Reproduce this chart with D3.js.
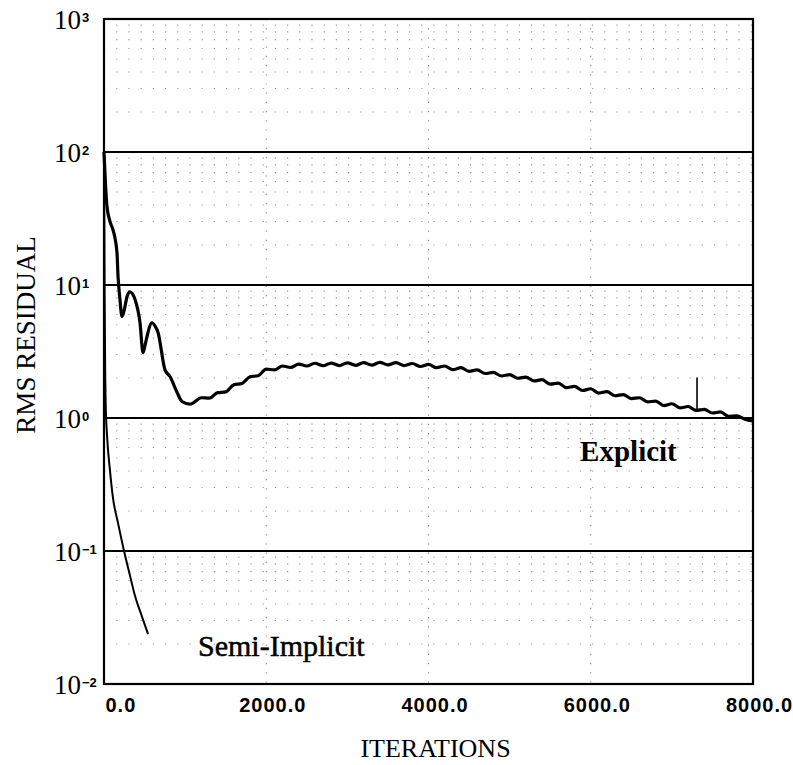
<!DOCTYPE html>
<html>
<head>
<meta charset="utf-8">
<script src="https://cdn.jsdelivr.net/npm/d3@7"></script>
<style>
  body { margin: 0; background: #fff; }
  svg { display: block; }
</style>
</head>
<body>
<div id="chart"></div>
<script>
// values
var xTicks = [0, 2000, 4000, 6000, 8000]
var yTicks = [1e3, 1e2, 1e1, 1e0, 1e-1, 1e-2]
var yExps = ["3", "2", "1", "0", "\u22121", "\u22122"]

var explicitIter = [0, 20, 37, 74, 111, 160, 173, 195, 222, 250, 284, 321, 350, 382, 444, 481, 505, 530, 592, 630, 666, 752, 814, 900, 962, 1060,
  1100, 1200, 1300, 1400, 1500, 1600, 1700, 1800, 1900, 2000,
  2100, 2200, 2300, 2400, 2500, 2600, 2700, 2800, 2900, 3000,
  3100, 3200, 3300, 3400, 3500, 3600, 3700, 3800, 3900, 4000,
  4100, 4200, 4300, 4400, 4500, 4600, 4700, 4800, 4900, 5000,
  5100, 5200, 5300, 5400, 5500, 5600, 5700, 5800, 5900, 6000,
  6100, 6200, 6300, 6400, 6500, 6600, 6700, 6800, 6900, 7000,
  7100, 7200, 7300, 7400, 7500, 7600, 7700, 7800, 7900, 8000]
var explicitRes = [100, 55, 39, 30, 26, 17.5, 11.6, 8, 5.8, 6.5, 8.2, 8.9, 8.6, 7.8, 5.2, 3.1, 3.5, 4.1, 5.2, 4.9, 4.4, 2.3, 2.05, 1.56, 1.33, 1.27,
  1.30, 1.42, 1.41, 1.55, 1.57, 1.78, 1.82, 2.04, 2.08, 2.33,
  2.30, 2.46, 2.40, 2.54, 2.46, 2.58, 2.47, 2.59, 2.48, 2.60,
  2.49, 2.61, 2.50, 2.62, 2.51, 2.61, 2.48, 2.57, 2.44, 2.53,
  2.39, 2.46, 2.31, 2.39, 2.24, 2.30, 2.16, 2.20, 2.07, 2.12,
  1.99, 2.03, 1.90, 1.94, 1.80, 1.83, 1.69, 1.73, 1.61, 1.66,
  1.54, 1.58, 1.47, 1.50, 1.40, 1.42, 1.32, 1.34, 1.24, 1.28,
  1.19, 1.22, 1.14, 1.16, 1.09, 1.11, 1.03, 1.04, 0.98, 0.95]

// the thin glitch near 7300 iterations
var spikeIter = [7310]
var spikeLow = [1.14]
var spikeHigh = [2.02]

var semiIter = [0, 4, 8, 14, 22, 37, 74, 111, 173, 247, 321, 382, 469, 543]
var semiRes = [100, 30, 8, 2.5, 1.2, 0.75, 0.40, 0.25, 0.162, 0.1, 0.065, 0.046, 0.032, 0.0237]

var labels = [
  {text: "Explicit", x: 5869, y: 0.472, weight: "bold", size: 29},
  {text: "Semi-Implicit", x: 1159, y: 0.0162, weight: "normal", size: 30}
]

var width = 793, height = 765
var margins = {top: 19, left: 104, right: 40, bottom: 81}
var inner_width = width - margins.left - margins.right
var inner_height = height - margins.top - margins.bottom

var svg = d3.select("#chart").append("svg")
            .attr("width", width)
            .attr("height", height)

var g = svg.append("g")
           .attr("transform", "translate(" + margins.left + "," + margins.top + ")")

var scalex = d3.scaleLinear()
               .domain([0, 8000])
               .range([0, inner_width])

var scaley = d3.scaleLog()
               .domain([1e-2, 1e3])
               .range([inner_height, 0])

// faint dotted minor grid (log 2..9 in each decade), scan leaves it patchy
var minors = []
for (var e = -2; e < 3; e++) {
  for (var m = 2; m < 10; m++) minors.push(m * Math.pow(10, e))
}
g.selectAll(".minor").data(minors)
  .enter().append("line")
  .attr("class", "minor")
  .attr("x1", 0).attr("x2", inner_width)
  .attr("y1", function (d) { return scaley(d) })
  .attr("y2", function (d) { return scaley(d) })
  .attr("stroke", "#999")
  .attr("stroke-width", 1.1)
  .attr("stroke-dasharray", "1.2,11")

g.selectAll(".vgrid").data(xTicks.slice(1, -1))
  .enter().append("line")
  .attr("class", "vgrid")
  .attr("x1", function (d) { return scalex(d) })
  .attr("x2", function (d) { return scalex(d) })
  .attr("y1", 0).attr("y2", inner_height)
  .attr("stroke", "#888")
  .attr("stroke-width", 1.1)
  .attr("stroke-dasharray", "1.2,8")

// solid decade lines
g.selectAll(".major").data(yTicks.slice(1, -1))
  .enter().append("line")
  .attr("class", "major")
  .attr("x1", 0).attr("x2", inner_width)
  .attr("y1", function (d) { return scaley(d) })
  .attr("y2", function (d) { return scaley(d) })
  .attr("stroke", "#000")
  .attr("stroke-width", 2)

// frame
g.append("rect")
  .attr("width", inner_width)
  .attr("height", inner_height)
  .attr("fill", "none")
  .attr("stroke", "#000")
  .attr("stroke-width", 2.2)

// y axis: 10 with superscript exponent
var yaxis = g.append("g")
  .call(d3.axisLeft(scaley).tickValues(yTicks).tickSize(0).tickPadding(0))
yaxis.select(".domain").remove()
yaxis.selectAll("text").each(function (d, i) {
  var t = d3.select(this)
  t.text("")
   .attr("x", -50)
   .attr("dy", "0.36em")
   .attr("text-anchor", "start")
   .style("font-family", "'Liberation Serif', 'DejaVu Serif', serif")
   .style("font-size", "27px")
   .style("fill", "#000")
  t.append("tspan").text("10")
  t.append("tspan")
   .text(yExps[i])
   .attr("dy", "-0.55em")
   .attr("dx", "1")
   .style("font-size", "13px")
   .style("font-family", "'Liberation Sans', sans-serif")
   .style("font-weight", "bold")
})

// x axis
var xaxis = g.append("g")
  .attr("transform", "translate(0," + inner_height + ")")
  .call(d3.axisBottom(scalex).tickValues(xTicks).tickSize(0).tickPadding(14)
          .tickFormat(d3.format(".1f")))
xaxis.select(".domain").remove()
xaxis.selectAll("text")
  .attr("dx", function (d) { return d === 0 ? 1 : 6 })
  .attr("text-anchor", function (d) { return d === 0 ? "start" : "middle" })
  .style("font-family", "'Liberation Sans', Arial, sans-serif")
  .style("font-weight", "bold")
  .style("font-size", "20px")
  .style("letter-spacing", "1px")
  .style("fill", "#000")

var linegenerator = d3.line()
  .x(function (d) { return scalex(d[0]) })
  .y(function (d) { return scaley(d[1]) })
  .curve(d3.curveMonotoneX)

g.append("path")
  .attr("d", linegenerator(explicitIter.map(function (v, i) { return [v, explicitRes[i]] })))
  .attr("stroke", "#000")
  .attr("stroke-width", 3.2)
  .attr("stroke-linejoin", "round")
  .attr("fill", "none")

g.selectAll(".spike").data(spikeIter)
  .enter().append("line")
  .attr("class", "spike")
  .attr("x1", function (d) { return scalex(d) })
  .attr("x2", function (d) { return scalex(d) })
  .attr("y1", function (d, i) { return scaley(spikeLow[i]) })
  .attr("y2", function (d, i) { return scaley(spikeHigh[i]) })
  .attr("stroke", "#000")
  .attr("stroke-width", 1.6)

g.append("path")
  .attr("d", linegenerator(semiIter.map(function (v, i) { return [v, semiRes[i]] })))
  .attr("stroke", "#000")
  .attr("stroke-width", 2)
  .attr("fill", "none")

g.selectAll(".label").data(labels)
  .enter().append("text")
  .attr("class", "label")
  .attr("x", function (d) { return scalex(d.x) })
  .attr("y", function (d) { return scaley(d.y) })
  .text(function (d) { return d.text })
  .style("font-family", "'Liberation Serif', 'DejaVu Serif', serif")
  .style("font-weight", function (d) { return d.weight })
  .style("font-size", function (d) { return d.size + "px" })
  .style("stroke", "#000")
  .style("stroke-width", function (d) { return d.weight === "bold" ? 0 : 0.5 })

// axis titles
svg.append("text")
  .attr("transform", "translate(35,335) rotate(-90)")
  .attr("text-anchor", "middle")
  .text("RMS RESIDUAL")
  .style("font-family", "'Liberation Serif', 'DejaVu Serif', serif")
  .style("font-size", "27px")

svg.append("text")
  .attr("x", margins.left + inner_width / 2 + 7)
  .attr("y", 757)
  .attr("text-anchor", "middle")
  .text("ITERATIONS")
  .style("font-family", "'Liberation Serif', 'DejaVu Serif', serif")
  .style("font-size", "26px")
</script>
</body>
</html>
